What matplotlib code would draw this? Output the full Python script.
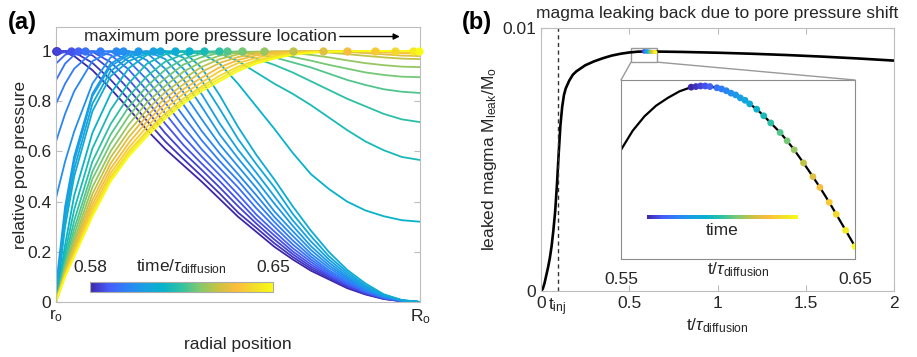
import numpy as np
import matplotlib
matplotlib.use("Agg")
import matplotlib.pyplot as plt
from matplotlib.colors import LinearSegmentedColormap, Normalize
from matplotlib.cm import ScalarMappable
from matplotlib.patches import Rectangle, ConnectionPatch

plt.rcParams.update({
    'font.family': ['Liberation Sans', 'DejaVu Sans'],
    'font.size': 12,
    'mathtext.fontset': 'custom',
    'mathtext.rm': 'Liberation Sans',
    'mathtext.it': 'Liberation Sans:italic',
    'text.color': '#262626',
    'axes.labelcolor': '#262626',
})

# ---- panel (a): pore pressure profiles --------------------------------
r_grid = [0, 0.025, 0.05, 0.1, 0.15, 0.2, 0.25, 0.3, 0.35, 0.4, 0.45, 0.5,
          0.55, 0.6, 0.65, 0.7, 0.75, 0.8, 0.85, 0.9, 0.95, 1.0]

p01 = [1, .995, .98, .924, .85, .77, .685, .61, .545, .48, .41, .34, .28, .22, .17, .125, .09, .055, .03, .012, .003, 0]
p02 = [1, 1.0, .996, .953, .886, .807, .722, .64, .57, .502, .432, .357, .296, .234, .18, .133, .095, .059, .032, .013, .003, 0]
p03 = [1, 1.0, 1.0, .983, .926, .847, .762, .673, .596, .527, .456, .382, .313, .249, .191, .141, .101, .063, .035, .014, .004, 0]
p04 = [.985, .997, 1.0, .997, .956, .886, .802, .711, .626, .552, .481, .405, .33, .265, .202, .15, .106, .068, .037, .015, .004, 0]
p05 = [.95, .985, .998, .999, .985, .926, .843, .752, .66, .58, .506, .429, .349, .281, .215, .16, .112, .073, .04, .016, .004, 0]
p06 = [.884, .95, .985, 1.0, .998, .96, .886, .795, .698, .609, .533, .457, .374, .3, .23, .17, .119, .078, .043, .018, .004, 0]
p07 = [.79, .87, .93, .995, 1.0, .989, .928, .84, .741, .645, .561, .484, .399, .319, .246, .181, .126, .084, .045, .019, .005, 0]
p08 = [.64, .75, .84, .96, .998, 1.0, .963, .884, .787, .682, .592, .51, .426, .339, .264, .193, .136, .09, .049, .021, .005, 0]
p09 = [.414, .56, .68, .87, .975, .999, .992, .93, .836, .729, .627, .541, .455, .361, .283, .208, .146, .096, .052, .023, .006, 0]
p10 = [.06, .38, .58, .83, .95, .993, 1.0, .968, .887, .779, .667, .573, .485, .392, .304, .223, .157, .102, .056, .025, .006, 0]
p11 = [0, .36, .56, .82, .94, .985, .999, .995, .93, .829, .711, .607, .516, .421, .326, .242, .169, .11, .061, .027, .007, 0]
p12 = [0, .33, .53, .79, .92, .975, .996, 1.0, .974, .883, .769, .65, .55, .457, .352, .263, .182, .119, .066, .028, .007, 0]
p13 = [0, .3, .5, .76, .9, .96, .99, .999, .997, .934, .823, .698, .587, .488, .382, .285, .199, .128, .074, .031, .008, 0]
p14 = [0, .228, .424, .674, .83, .932, .985, .998, 1.0, .99, .95, .87, .78, .69, .595, .51, .45, .40, .365, .342, .326, .32]
p15 = [0, .196, .368, .612, .766, .872, .95, .987, .998, 1.0, .99, .96, .915, .87, .83, .785, .735, .685, .64, .605, .578, .566]
p16 = [0, .172, .324, .56, .709, .82, .90, .958, .987, .997, 1.0, .99, .97, .945, .915, .88, .845, .81, .78, .75, .728, .717]
p17 = [0, .156, .292, .52, .667, .778, .86, .926, .968, .99, .998, .998, .99, .975, .955, .935, .91, .885, .865, .848, .838, .833]
p18 = [0, .144, .268, .49, .632, .742, .828, .891, .946, .976, .993, .998, .997, .99, .977, .962, .945, .93, .915, .905, .898, .896]
p19 = [0, .134, .247, .458, .601, .708, .795, .861, .918, .957, .982, .994, .998, .998, .993, .985, .975, .963, .952, .944, .938, .936]
p20 = [0, .126, .231, .43, .576, .68, .766, .836, .889, .937, .968, .987, .995, .999, 1.0, .998, .994, .988, .981, .975, .97, .968]
p21 = [0, .12, .218, .407, .552, .657, .742, .812, .867, .917, .953, .976, .99, .997, .999, 1.0, 1.0, .997, .992, .987, .982, .98]
p22 = [0, .113, .207, .388, .531, .634, .72, .791, .848, .894, .936, .964, .983, .993, .997, .999, 1.0, 1.0, .998, .995, .992, .99]
p23 = [0, .109, .198, .371, .513, .615, .699, .77, .829, .875, .92, .952, .973, .988, .995, .998, 1.0, 1.0, 1.0, .999, .997, .995]
p24 = [0, .105, .19, .357, .498, .60, .681, .752, .811, .859, .902, .938, .963, .981, .991, .996, .999, 1.0, 1.0, 1.0, 1.0, .998]
p25 = [0, .102, .185, .348, .489, .59, .671, .741, .80, .85, .89, .929, .957, .975, .988, .995, .998, 1.0, 1.0, 1.0, 1.0, 1.0]
p26 = [0, .1, .18, .34, .48, .58, .66, .73, .79, .84, .88, .92, .95, .97, .985, .993, .997, .999, 1.0, 1.0, 1.0, 1.0]

profiles = [p01, p02, p03, p04, p05, p06, p07, p08, p09, p10, p11, p12, p13,
            p14, p15, p16, p17, p18, p19, p20, p21, p22, p23, p24, p25, p26]

# location of the maximum of each profile
peak_r = [0, 0, 0.003, .04, .06, .08, .12, .165, .185, .225, .267, .286, .327,
          .365, .407, .448, .47, .511, .571, .651, .733, .80, .876, .93, .981, .997]

# time / tau_diffusion of each profile (also the dots in the inset of (b))
times = [.580, .582, .584, .586, .588, .591, .593, .595, .597, .599, .601, .603, .605,
         .608, .611, .614, .618, .621, .624, .628, .632, .635, .639, .642, .646, .650]

# ---- panel (b): leaked magma ----------------------------------------------
t_main = [0, .01, .02, .03, .04, .05, .06, .07, .08, .09, .1, .11, .12, .13, .14, .16, .18,
          .2, .25, .3, .35, .4, .45, .5, .55, .6, .7, .8, .9, 1.0, 1.2, 1.4, 1.6, 1.8, 2.0]
leak_main = [0, .00008, .0003, .0006, .0009, .00125, .0017, .0023, .0030, .0040, .0052,
             .0063, .0070, .00745, .0077, .0080, .00822, .00835, .00858, .00873, .00885,
             .00895, .00902, .00907, .0091, .00911, .0091, .00909, .009075, .00906,
             .00902, .00897, .00891, .00884, .00876]
t_inj = 0.096

zoom_t = [.55, .555, .56, .565, .57, .575] + times
zoom_leak = [.0090983, .0091015, .0091039, .0091057, .0091070, .0091081,
             .0091088, .0091089, .0091090, .0091090, .0091089, .0091087, .0091085,
             .0091082, .0091078, .0091075, .0091070, .0091066, .0091060, .0091051,
             .0091040, .0091028, .0091012, .0090998, .0090983, .0090961, .0090938,
             .0090920, .0090895, .0090875, .0090848, .0090821]

# parula-like colour map
parula = LinearSegmentedColormap.from_list('parula', [
    (0.00, (0.2422, 0.1504, 0.6603)),
    (0.10, (0.2780, 0.3556, 0.9777)),
    (0.20, (0.1700, 0.5100, 0.9700)),
    (0.30, (0.0900, 0.6300, 0.8900)),
    (0.40, (0.0300, 0.7000, 0.7900)),
    (0.50, (0.1900, 0.7600, 0.6300)),
    (0.60, (0.5100, 0.7900, 0.4300)),
    (0.70, (0.7900, 0.7600, 0.2600)),
    (0.80, (0.9900, 0.7400, 0.2400)),
    (0.90, (0.9500, 0.8700, 0.1600)),
    (1.00, (0.9769, 0.9839, 0.0805))])
norm = Normalize(0.58, 0.65)

W, H = 917, 357
box_grey = '#bdbdbd'
fig = plt.figure(figsize=(W / 100, H / 100), dpi=100)

# ================= (a) =================
ax = fig.add_axes([56 / W, 55 / H, 364 / W, 275 / H])
for prof, t in zip(profiles, times):
    ax.plot(r_grid, prof, color=parula(norm(t)), lw=1.3)
for pk, t in zip(peak_r, times):
    ax.plot(pk, 1, 'o', ms=5, color=parula(norm(t)), clip_on=False, zorder=3)
ax.set_xlim(0, 1)
ax.set_ylim(0, 1.096)
ax.set_yticks([0, .2, .4, .6, .8, 1])
ax.set_yticklabels(['0', '0.2', '0.4', '0.6', '0.8', '1'])
ax.set_xticks([0, 1])
ax.set_xticklabels([r'r$_{\rm o}$', r'R$_{\rm o}$'])
ax.tick_params(direction='in', length=4, color=box_grey, labelcolor='#262626',
               right=True, labelsize=12.5)
for s in ax.spines.values():
    s.set_color(box_grey)
ax.set_ylabel('relative pore pressure', fontsize=12.5, labelpad=-1)
ax.set_xlabel('radial position', fontsize=12.5, labelpad=8)
ax.annotate('', xy=(0.952, 1.058), xytext=(0.772, 1.058),
            arrowprops=dict(arrowstyle='-|>', color='k', lw=1, mutation_scale=9))
ax.text(0.772, 1.058, 'maximum pore pressure location', ha='right', va='center', fontsize=12.5)

cax = fig.add_axes([90 / W, 65 / H, 183 / W, 10 / H])
cb = fig.colorbar(ScalarMappable(norm, parula), cax=cax, orientation='horizontal')
cb.set_ticks([0.58, 0.65])
cb.set_ticklabels(['0.58', '0.65'])
cax.xaxis.set_ticks_position('top')
cax.tick_params(length=0, pad=5, labelsize=12.5, labelcolor='#262626')
cb.outline.set_edgecolor('#aaaaaa')
cb.outline.set_linewidth(0.8)
fig.text(181 / W, (H - 267) / H, r'time/$\tau_{\rm diffusion}$', ha='center', va='center', fontsize=12.5)

fig.text(8 / W, 1 - 22 / H, '(a)', fontsize=17, fontweight='bold', va='center', color='k')

# ================= (b) =================
ax2 = fig.add_axes([541 / W, 66 / H, 353 / W, 263 / H])
ax2.plot(t_main, leak_main, color='k', lw=1.9)
ax2.axvline(t_inj, color='#333333', lw=1, dashes=(3, 2.5))
ax2.scatter(zoom_t[6:], zoom_leak[6:], c=times, cmap=parula, norm=norm, s=7, zorder=3, linewidths=0)
ax2.set_xlim(0, 2)
ax2.set_ylim(0, 0.01)
ax2.set_xticks([0, .5, 1, 1.5, 2])
ax2.set_xticklabels(['0', '0.5', '1', '1.5', '2'])
ax2.set_yticks([0, 0.01])
ax2.set_yticklabels(['0', '0.01'])
ax2.tick_params(direction='in', length=4, color=box_grey, labelcolor='#262626',
                top=True, right=True, labelsize=12.5)
for s in ax2.spines.values():
    s.set_color(box_grey)
ax2.set_title('magma leaking back due to pore pressure shift', fontsize=12.5, pad=7)
ax2.set_ylabel(r'leaked magma M$_{\rm leak}$/M$_{\rm o}$', fontsize=12.5, labelpad=2)
ax2.set_xlabel(r't/$\tau_{\rm diffusion}$', fontsize=12.5, labelpad=4)
ax2.text(0.04, -0.022, r't$_{\rm inj}$', transform=ax2.get_xaxis_transform(),
         ha='left', va='top', fontsize=12.5)

# zoom window and connectors
zx0, zx1, zy0, zy1 = 0.51, 0.66, 0.0087, 0.00925
ax2.add_patch(Rectangle((zx0, zy0), zx1 - zx0, zy1 - zy0, fill=False, ec='#999999', lw=1))

axi = fig.add_axes([621 / W, 98 / H, 234 / W, 179 / H])
axi.plot(zoom_t, zoom_leak, color='k', lw=1.6)
axi.scatter(zoom_t[6:], zoom_leak[6:], c=times, cmap=parula, norm=norm, s=24, zorder=3, linewidths=0)
axi.set_xlim(0.55, 0.65)
axi.set_ylim(0.00908, 0.00911)
axi.set_xticks([0.55, 0.65])
axi.set_xticklabels(['0.55', '0.65'])
axi.set_yticks([])
axi.tick_params(length=0, pad=9, labelsize=12.5, labelcolor='#262626')
for s in axi.spines.values():
    s.set_color('#8c8c8c')
axi.text(0.5, -0.005, r't/$\tau_{\rm diffusion}$', transform=axi.transAxes,
         ha='center', va='top', fontsize=12.5)

for xa, xb in [(zx0, 0), (zx1, 1)]:
    fig.add_artist(ConnectionPatch(xyA=(xa, zy0), coordsA=ax2.transData,
                                   xyB=(xb, 1), coordsB=axi.transAxes,
                                   color='#999999', lw=1))

cax2 = fig.add_axes([647 / W, 138 / H, 151 / W, 4.5 / H])
cb2 = fig.colorbar(ScalarMappable(norm, parula), cax=cax2, orientation='horizontal')
cb2.set_ticks([])
cb2.outline.set_visible(False)
cax2.set_xlabel('time', fontsize=12.5, labelpad=3)

fig.text(462 / W, 1 - 22 / H, '(b)', fontsize=17, fontweight='bold', va='center', color='k')

fig.savefig('out.png', dpi=100)
